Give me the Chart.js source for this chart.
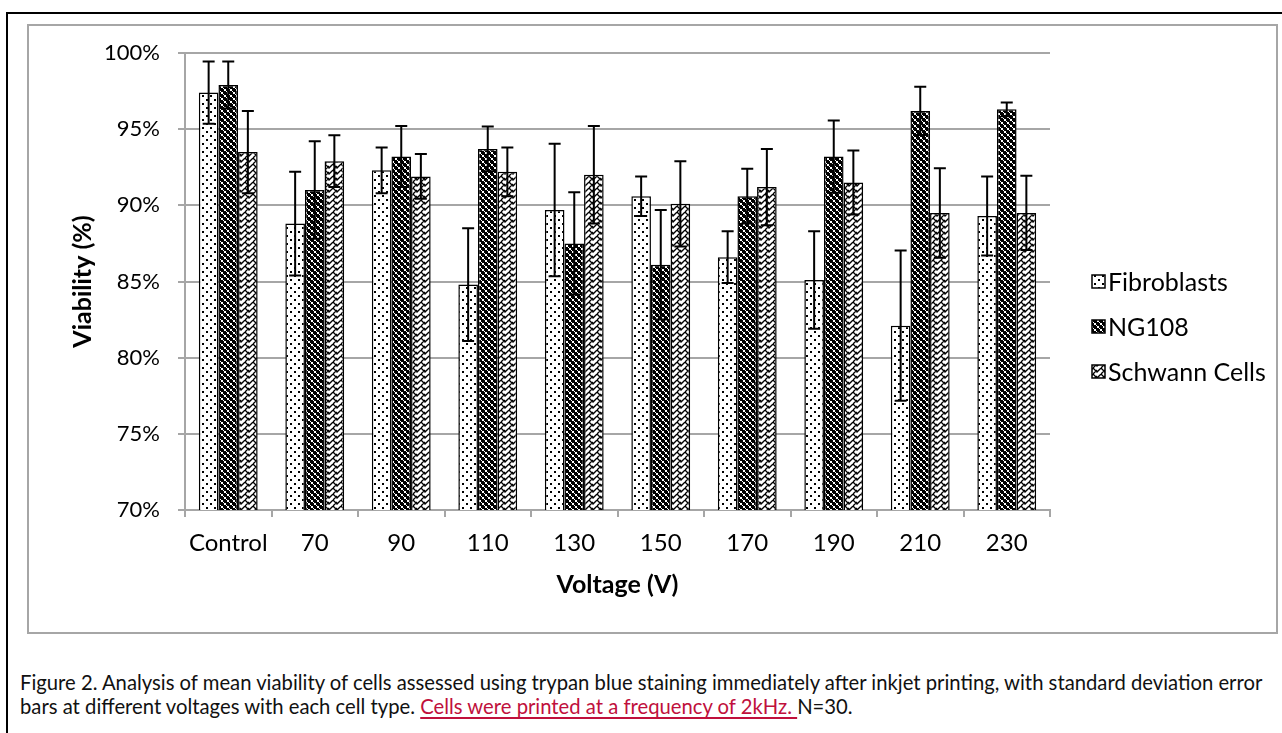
<!DOCTYPE html>
<html>
<head>
<meta charset="utf-8">
<script src="https://cdn.jsdelivr.net/npm/chart.js@4"></script>
<style>
  html, body { margin: 0; padding: 0; background: #fff; overflow: hidden; }
  body { width: 1282px; height: 733px; position: relative; font-family: Lato, sans-serif; }
  #outer { position: absolute; left: 6px; top: 12px; width: 1400px; height: 800px; border: 2px solid #000; }
  #inner { position: absolute; left: 27px; top: 24px; width: 1247px; height: 606px; border: 2px solid #a6a6a6; }
  #chart { position: absolute; left: 29px; top: 26px; }
  .cap { position: absolute; left: 20px; white-space: nowrap; line-height: 24px; color: #111; }
  .red { color: #c0103c; text-decoration: underline; text-decoration-thickness: 1.5px; text-underline-offset: 3px; }
</style>
</head>
<body>
<div id="outer"></div>
<div id="inner"></div>
<canvas id="chart" width="1246" height="605"></canvas>
<div class="cap" id="cap1" style="top:670px">Figure 2. Analysis of mean viability of cells assessed using trypan blue staining immediately after inkjet printing, with standard deviation error</div>
<div class="cap" id="cap2" style="top:694px">bars at different voltages with each cell type. <span class="red">Cells were printed at a frequency of 2kHz. </span>N=30.</div>
<script>
// categories and values (percent)
var voltages = ["Control", "70", "90", "110", "130", "150", "170", "190", "210", "230"];
var yTicks = [70, 75, 80, 85, 90, 95, 100];

var fibroblasts = [97.4, 88.8, 92.3, 84.8, 89.7, 90.6, 86.6, 85.1, 82.1, 89.3];
var fibroblastsSD = [2.05, 3.4, 1.5, 3.7, 4.35, 1.3, 1.7, 3.2, 4.93, 2.6];
var ng108 = [97.9, 91.0, 93.2, 93.7, 87.5, 86.1, 90.6, 93.2, 96.2, 96.3];
var ng108SD = [1.55, 3.2, 2.0, 1.47, 3.36, 3.6, 1.8, 2.37, 1.58, 0.45];
var schwann = [93.5, 92.9, 91.9, 92.2, 92.0, 90.1, 91.2, 91.5, 89.5, 89.5];
var schwannSD = [2.7, 1.7, 1.47, 1.6, 3.2, 2.8, 2.5, 2.1, 2.94, 2.44];

// fit caption to the width of the figure
var cap1 = document.getElementById("cap1");
var cap2 = document.getElementById("cap2");
cap1.style.fontSize = "17px";
var fs = 17 * 1243 / cap1.getBoundingClientRect().width;
cap1.style.fontSize = fs + "px";
cap2.style.fontSize = fs + "px";

// fill patterns
function makePattern(w, h, draw) {
    var c = document.createElement("canvas");
    c.width = w; c.height = h;
    var g = c.getContext("2d");
    draw(g);
    return document.createElement("canvas").getContext("2d").createPattern(c, "repeat");
}
var dots = makePattern(8, 8, function (g) {
    g.fillStyle = "#fff"; g.fillRect(0, 0, 8, 8);
    g.fillStyle = "#000";
    g.fillRect(1, 1, 2, 2);
    g.fillRect(5, 5, 2, 2);
});
var checks = makePattern(6, 6, function (g) {
    g.fillStyle = "#000"; g.fillRect(0, 0, 6, 6);
    g.fillStyle = "#fff";
    g.fillRect(0, 0, 2, 2);
    g.fillRect(3, 3, 2, 2);
    g.fillRect(2, 2, 1, 1);
    g.fillRect(5, 5, 1, 1);
});
var zigzag = makePattern(8, 6, function (g) {
    g.fillStyle = "#fff"; g.fillRect(0, 0, 8, 6);
    g.strokeStyle = "#000"; g.lineWidth = 1.3;
    g.beginPath();
    g.moveTo(0, 0); g.lineTo(4, 4); g.lineTo(8, 0);
    g.moveTo(0, 6); g.lineTo(4, 10); g.lineTo(8, 6);
    g.moveTo(-4, 2); g.lineTo(0, 6); g.lineTo(4, 2);
    g.stroke();
});

var errors = [fibroblastsSD, ng108SD, schwannSD];

var errorBars = {
    id: "errorBars",
    afterDatasetsDraw: function (chart) {
        var ctx = chart.ctx;
        var y = chart.scales.y;
        ctx.save();
        ctx.strokeStyle = "#000";
        ctx.lineWidth = 2;
        chart.data.datasets.forEach(function (ds, i) {
            var meta = chart.getDatasetMeta(i);
            meta.data.forEach(function (bar, j) {
                var v = ds.data[j], e = errors[i][j];
                var top = y.getPixelForValue(v + e);
                var bot = y.getPixelForValue(v - e);
                ctx.beginPath();
                ctx.moveTo(bar.x, top); ctx.lineTo(bar.x, bot);
                ctx.moveTo(bar.x - 6, top); ctx.lineTo(bar.x + 6, top);
                ctx.moveTo(bar.x - 6, bot); ctx.lineTo(bar.x + 6, bot);
                ctx.stroke();
            });
        });
        ctx.restore();
    }
};

var sideLegend = {
    id: "sideLegend",
    afterDraw: function (chart) {
        var ctx = chart.ctx;
        var x = chart.chartArea.right + 42;
        ctx.save();
        ctx.font = "25px Lato";
        ctx.textBaseline = "middle";
        ctx.fillStyle = "#000";
        chart.data.datasets.forEach(function (ds, i) {
            var cy = chart.height / 2 + (i - 1) * 45 - 2;
            ctx.fillStyle = ds.backgroundColor;
            ctx.fillRect(x, cy - 6.5, 13, 13);
            ctx.strokeStyle = "#000";
            ctx.lineWidth = 1.5;
            ctx.strokeRect(x, cy - 6.5, 13, 13);
            ctx.fillStyle = "#000";
            ctx.fillText(ds.label, x + 16, cy + 1);
        });
        ctx.restore();
    }
};

var ctx = document.getElementById("chart");

var viabilityChart = new Chart(ctx, {
    type: "bar",
    data: {
        labels: voltages,
        datasets: [
            { label: "Fibroblasts", data: fibroblasts, backgroundColor: dots },
            { label: "NG108", data: ng108, backgroundColor: checks },
            { label: "Schwann Cells", data: schwann, backgroundColor: zigzag }
        ]
    },
    options: {
        responsive: false,
        animation: false,
        devicePixelRatio: 1,
        layout: { padding: { left: 0, top: 27, right: 225, bottom: 0 } },
        datasets: {
            bar: {
                borderColor: "#000",
                borderWidth: 1.5,
                borderSkipped: false,
                categoryPercentage: 0.68,
                barPercentage: 1
            }
        },
        plugins: {
            legend: { display: false },
            tooltip: { enabled: false }
        },
        scales: {
            x: {
                afterFit: function (s) { s.height = 121; },
                grid: { drawOnChartArea: false, drawTicks: true, tickLength: 7, color: "#a6a6a6", lineWidth: 2 },
                border: { color: "#a6a6a6", width: 2 },
                ticks: { color: "#000", font: { family: "Lato", size: 24 }, padding: 12, maxRotation: 0 },
                title: {
                    display: true,
                    text: "Voltage (V)",
                    color: "#000",
                    font: { family: "Lato", size: 25, weight: "bold" },
                    padding: { top: 0, bottom: 31 }
                }
            },
            y: {
                min: 70,
                max: 100,
                afterFit: function (s) { s.width = 156; s.paddingTop = 0; s.paddingBottom = 0; },
                afterBuildTicks: function (s) { s.ticks = yTicks.map(function (v) { return { value: v }; }); },
                grid: { color: "#a6a6a6", lineWidth: 2, tickLength: 7 },
                border: { color: "#a6a6a6", width: 2 },
                ticks: {
                    color: "#000",
                    font: { family: "Lato", size: 22 },
                    padding: 18,
                    callback: function (v) { return v + "%"; }
                },
                title: {
                    display: true,
                    text: "Viability (%)",
                    color: "#000",
                    font: { family: "Lato", size: 25, weight: "bold" },
                    padding: { top: 39, bottom: 0 }
                }
            }
        }
    },
    plugins: [errorBars, sideLegend]
});
</script>
</body>
</html>
